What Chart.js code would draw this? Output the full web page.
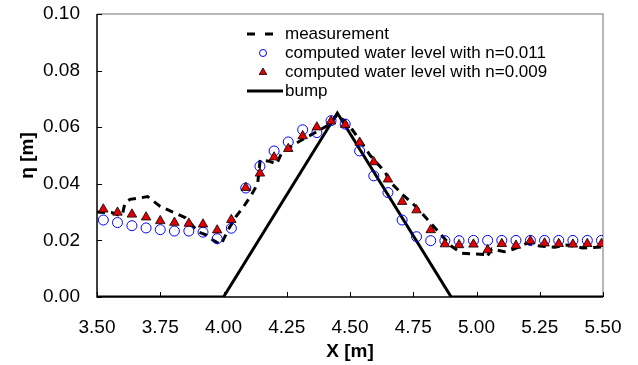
<!DOCTYPE html>
<html>
<head>
<meta charset="utf-8">
<script src="https://cdn.jsdelivr.net/npm/chart.js@4.4.1/dist/chart.umd.min.js"></script>
<style>
  html, body { margin: 0; padding: 0; background: #fff; }
  canvas { display: block; }
</style>
</head>
<body>
<canvas id="chart" width="638" height="365"></canvas>
<script>
// Measured free surface (dashed line)
const measX = [3.50, 3.56, 3.585, 3.60, 3.61, 3.63, 3.67, 3.70, 3.75, 3.80, 3.85, 3.90, 3.93, 3.96, 3.99,
               4.02, 4.05, 4.08, 4.11, 4.135, 4.145, 4.18, 4.21, 4.23, 4.28, 4.33, 4.38, 4.42, 4.45,
               4.48, 4.51, 4.55, 4.58, 4.61, 4.64, 4.655, 4.71, 4.76, 4.81, 4.86, 4.90, 4.94, 4.99,
               5.03, 5.04, 5.06, 5.11, 5.15, 5.20, 5.25, 5.31, 5.36, 5.42, 5.50];
const measY = [0.0300, 0.0298, 0.0290, 0.0290, 0.0330, 0.0345, 0.0350, 0.0355, 0.0320, 0.0300, 0.0280, 0.0230, 0.0220, 0.0200, 0.0185,
               0.0240, 0.0285, 0.0320, 0.0360, 0.0400, 0.0485, 0.0480, 0.0470, 0.0510, 0.0540, 0.0565, 0.0590, 0.0610, 0.0645,
               0.0620, 0.0590, 0.0540, 0.0500, 0.0470, 0.0440, 0.0410, 0.0360, 0.0320, 0.0270, 0.0220, 0.0180, 0.0155, 0.0152,
               0.0150, 0.0140, 0.0170, 0.0160, 0.0170, 0.0190, 0.0180, 0.0176, 0.0184, 0.0173, 0.0177];

// Computed water levels at the model stations
const compX = [3.525, 3.581, 3.638, 3.694, 3.750, 3.806, 3.863, 3.919, 3.975, 4.031, 4.088, 4.144,
               4.200, 4.256, 4.313, 4.369, 4.425, 4.481, 4.538, 4.594, 4.650, 4.706, 4.763, 4.819,
               4.875, 4.931, 4.988, 5.044, 5.100, 5.156, 5.213, 5.269, 5.325, 5.381, 5.438, 5.494];
const etaN011 = [0.0272, 0.0263, 0.0252, 0.0244, 0.0238, 0.0233, 0.0233, 0.0229, 0.0206, 0.0243, 0.0385, 0.0462,
                 0.0516, 0.0548, 0.0591, 0.0581, 0.0623, 0.0611, 0.0516, 0.0428, 0.0369, 0.0272, 0.0213, 0.0199,
                 0.0199, 0.0199, 0.0200, 0.0200, 0.0200, 0.0200, 0.0200, 0.0200, 0.0200, 0.0200, 0.0200, 0.0200];
const etaN009 = [0.0310, 0.0299, 0.0292, 0.0282, 0.0269, 0.0263, 0.0260, 0.0257, 0.0236, 0.0273, 0.0386, 0.0437,
                 0.0494, 0.0524, 0.0569, 0.0600, 0.0621, 0.0609, 0.0546, 0.0477, 0.0416, 0.0337, 0.0307, 0.0237,
                 0.0187, 0.0184, 0.0186, 0.0166, 0.0188, 0.0182, 0.0198, 0.0190, 0.0188, 0.0186, 0.0188, 0.0188];

// Bump profile
const bumpX = [3.50, 4.00, 4.45, 4.90, 5.50];
const bumpY = [0, 0, 0.065, 0, 0];

// Axis ticks
const xTickValues = [3.50, 3.75, 4.00, 4.25, 4.50, 4.75, 5.00, 5.25, 5.50];
const yTickValues = [0.00, 0.02, 0.04, 0.06, 0.08, 0.10];

const legendLabels = ['measurement', 'computed water level with n=0.011', 'computed water level with n=0.009', 'bump'];

const FONT = '"Liberation Sans", Arial, sans-serif';

function pts(xs, ys) {
    return xs.map((x, i) => ({ x: x, y: ys[i] }));
}

// frame + inward tick marks
const framePlugin = {
    id: 'frame',
    beforeDatasetsDraw(chart) {
        const { ctx, chartArea: a, scales } = chart;
        ctx.save();
        ctx.strokeStyle = '#a0a0a0';
        ctx.lineWidth = 1.5;
        ctx.beginPath();
        ctx.moveTo(a.left, a.top);
        ctx.lineTo(a.right, a.top);
        ctx.lineTo(a.right, a.bottom);
        ctx.stroke();

        ctx.strokeStyle = '#000';
        ctx.lineWidth = 1.5;
        ctx.beginPath();
        ctx.moveTo(a.left, a.top);
        ctx.lineTo(a.left, a.bottom);
        ctx.lineTo(a.right, a.bottom);
        ctx.stroke();

        ctx.lineWidth = 1;
        ctx.beginPath();
        xTickValues.forEach(v => {
            const px = Math.round(scales.x.getPixelForValue(v)) + 0.5;
            ctx.moveTo(px, a.bottom);
            ctx.lineTo(px, a.bottom - 5);
        });
        yTickValues.forEach(v => {
            const py = Math.round(scales.y.getPixelForValue(v)) + 0.5;
            ctx.moveTo(a.left, py);
            ctx.lineTo(a.left + 5, py);
        });
        ctx.stroke();
        ctx.restore();
    }
};

// legend in the upper part of the plot
const legendPlugin = {
    id: 'boxLegend',
    afterDraw(chart) {
        const ctx = chart.ctx;
        const symX = 263, textX = 285;
        const rows = [34, 53, 72, 91];
        ctx.save();
        ctx.font = '17px ' + FONT;
        ctx.fillStyle = '#000';
        ctx.textBaseline = 'middle';
        legendLabels.forEach((t, i) => ctx.fillText(t, textX, rows[i]));

        // dashed
        ctx.strokeStyle = '#000';
        ctx.lineWidth = 3;
        ctx.setLineDash([8, 10]);
        ctx.beginPath();
        ctx.moveTo(247, rows[0]);
        ctx.lineTo(275, rows[0]);
        ctx.stroke();
        ctx.setLineDash([]);

        // circle
        ctx.strokeStyle = '#0000ff';
        ctx.lineWidth = 1;
        ctx.beginPath();
        ctx.arc(symX, rows[1], 3.5, 0, Math.PI * 2);
        ctx.stroke();

        // triangle
        ctx.fillStyle = '#e00000';
        ctx.strokeStyle = '#000';
        ctx.lineWidth = 0.8;
        ctx.beginPath();
        ctx.moveTo(symX, rows[2] - 4);
        ctx.lineTo(symX + 3.8, rows[2] + 2.5);
        ctx.lineTo(symX - 3.8, rows[2] + 2.5);
        ctx.closePath();
        ctx.fill();
        ctx.stroke();

        // bump
        ctx.lineWidth = 3;
        ctx.beginPath();
        ctx.moveTo(247, rows[3]);
        ctx.lineTo(283, rows[3]);
        ctx.stroke();
        ctx.restore();
    }
};

new Chart(document.getElementById('chart'), {
    type: 'scatter',
    data: {
        datasets: [
            {
                label: legendLabels[0],
                data: pts(measX, measY),
                showLine: true,
                borderColor: '#000',
                borderWidth: 3,
                borderDash: [8, 6],
                pointRadius: 0,
                order: 2
            },
            {
                label: legendLabels[1],
                data: pts(compX, etaN011),
                showLine: false,
                pointStyle: 'circle',
                pointRadius: 5,
                borderColor: '#0000ff',
                backgroundColor: 'rgba(0,0,0,0)',
                borderWidth: 1,
                order: 1
            },
            {
                label: legendLabels[2],
                data: pts(compX, etaN009),
                showLine: false,
                pointStyle: 'triangle',
                pointRadius: 5.5,
                borderColor: '#000',
                backgroundColor: '#e00000',
                borderWidth: 0.8,
                order: 0
            },
            {
                label: legendLabels[3],
                data: pts(bumpX, bumpY),
                showLine: true,
                borderColor: '#000',
                borderWidth: 3,
                pointRadius: 0,
                order: 3
            }
        ]
    },
    options: {
        responsive: false,
        animation: false,
        devicePixelRatio: 1,
        layout: { padding: { top: 14, right: 35, left: 0, bottom: 0 } },
        plugins: {
            legend: { display: false },
            tooltip: { enabled: false }
        },
        scales: {
            x: {
                type: 'linear',
                min: 3.5,
                max: 5.5,
                afterFit: s => { s.height = 68; s.paddingLeft = 0; s.paddingRight = 0; },
                afterBuildTicks: s => { s.ticks = xTickValues.map(v => ({ value: v })); },
                grid: { display: false, drawTicks: false },
                border: { display: false },
                ticks: {
                    color: '#000',
                    font: { family: FONT, size: 19 },
                    padding: 19,
                    maxRotation: 0,
                    callback: v => v.toFixed(2)
                },
                title: {
                    display: true,
                    text: 'X [m]',
                    color: '#000',
                    font: { family: FONT, size: 19, weight: 'bold' },
                    padding: { top: 0, bottom: 2 }
                }
            },
            y: {
                min: 0,
                max: 0.1,
                afterFit: s => { s.width = 97; s.paddingTop = 0; s.paddingBottom = 0; },
                afterBuildTicks: s => { s.ticks = yTickValues.map(v => ({ value: v })); },
                grid: { display: false, drawTicks: false },
                border: { display: false },
                ticks: {
                    color: '#000',
                    font: { family: FONT, size: 19 },
                    padding: 17,
                    callback: v => v.toFixed(2)
                },
                title: {
                    display: true,
                    text: 'η [m]',
                    color: '#000',
                    font: { family: FONT, size: 19, weight: 'bold' },
                    padding: { top: 16, bottom: 0 }
                }
            }
        }
    },
    plugins: [framePlugin, legendPlugin]
});
</script>
</body>
</html>
